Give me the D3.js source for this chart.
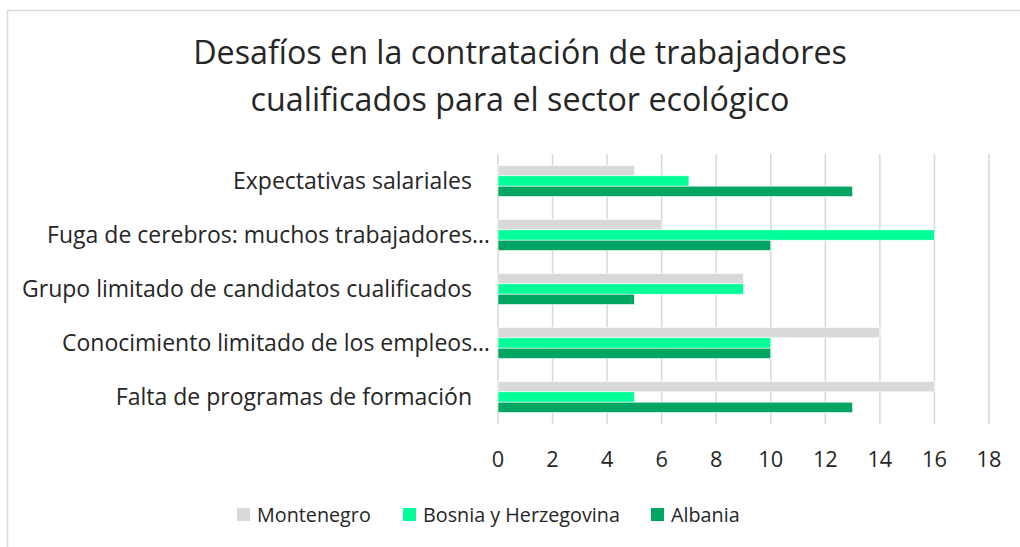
<!DOCTYPE html>
<html>
<head>
<meta charset="utf-8">
<script src="https://cdn.jsdelivr.net/npm/d3@7"></script>
<style>
  body { margin: 0; background: #fff; }
  text { font-family: "Open Sans", "Noto Sans", sans-serif; fill: #262626; }
</style>
</head>
<body>
<div id="chart"></div>
<script>
  var categories = [
    'Expectativas salariales',
    'Fuga de cerebros: muchos trabajadores…',
    'Grupo limitado de candidatos cualificados',
    'Conocimiento limitado de los empleos…',
    'Falta de programas de formación'
  ];
  var seriesNames = ['Montenegro', 'Bosnia y Herzegovina', 'Albania'];
  var montenegro = [5, 6, 9, 14, 16];
  var bosnia = [7, 16, 9, 10, 5];
  var albania = [13, 10, 5, 10, 13];
  var xTicks = [0, 2, 4, 6, 8, 10, 12, 14, 16, 18];
  var titleLines = ['Desafíos en la contratación de trabajadores', 'cualificados para el sector ecológico'];

  var colors = ['#d9d9d9', '#00ff99', '#00a562'];
  var values = [montenegro, bosnia, albania];

  var width = 1020, height = 547;
  var svg = d3.select('#chart').append('svg')
    .attr('width', width)
    .attr('height', height);

  // size a font so a sample string takes the width seen in the picture
  function fitSize(str, target, weight) {
    var t = svg.append('text').style('font-size', '20px').style('font-weight', weight || 400).text(str);
    var w = t.node().getComputedTextLength();
    t.remove();
    return 20 * target / w;
  }
  var titleSize = fitSize(titleLines[0], 654);
  var labelSize = fitSize(categories[2], 450);
  var legendSize = fitSize(seriesNames[1], 197);
  var tickSize = Math.min(fitSize('18', 25), legendSize * 1.1);

  // chart frame
  svg.append('rect')
    .attr('x', 7.5).attr('y', 10.5)
    .attr('width', 1030).attr('height', 560)
    .attr('fill', 'none')
    .attr('stroke', '#d9d9d9')
    .attr('stroke-width', 1.5);

  // title
  var title = svg.append('text')
    .attr('text-anchor', 'middle')
    .style('font-size', titleSize + 'px');
  title.selectAll('tspan')
    .data(titleLines)
    .enter().append('tspan')
    .attr('x', 520)
    .attr('y', function(d, i) { return 64 + i * 47; })
    .text(function(d) { return d; });

  var x = d3.scaleLinear().domain([0, 18]).range([498, 989]);
  var y = d3.scaleBand().domain(categories).range([154, 424]).paddingInner(0.425).paddingOuter(0.2125);
  var ySub = d3.scaleBand().domain(seriesNames).range([0, y.bandwidth()]);

  // gridlines
  svg.append('g').selectAll('line')
    .data(xTicks)
    .enter().append('line')
    .attr('x1', function(d) { return x(d); })
    .attr('x2', function(d) { return x(d); })
    .attr('y1', 154).attr('y2', 424)
    .attr('stroke', '#d9d9d9')
    .attr('stroke-width', 1.5);

  // bars
  var groups = svg.append('g').selectAll('g')
    .data(categories)
    .enter().append('g')
    .attr('transform', function(d) { return 'translate(0,' + y(d) + ')'; });

  groups.selectAll('rect')
    .data(function(d, i) {
      return seriesNames.map(function(s, j) { return {s: s, v: values[j][i], c: colors[j]}; });
    })
    .enter().append('rect')
    .attr('x', x(0))
    .attr('y', function(d) { return ySub(d.s); })
    .attr('width', function(d) { return x(d.v) - x(0); })
    .attr('height', ySub.bandwidth())
    .attr('fill', function(d) { return d.c; })
    .attr('stroke', '#fff')
    .attr('stroke-width', 0.6);

  // category labels (truncated ones run closer to the axis, like the original)
  svg.append('g').selectAll('text')
    .data(categories)
    .enter().append('text')
    .attr('x', function(d) { return d.slice(-1) === '…' ? 490 : 472; })
    .attr('y', function(d) { return y(d) + y.bandwidth() / 2 + 8; })
    .attr('text-anchor', 'end')
    .style('font-size', labelSize + 'px')
    .text(function(d) { return d; });

  // x axis labels
  svg.append('g').selectAll('text')
    .data(xTicks)
    .enter().append('text')
    .attr('x', function(d) { return x(d); })
    .attr('y', 467)
    .attr('text-anchor', 'middle')
    .style('font-size', tickSize + 'px')
    .text(function(d) { return d; });

  // legend
  var legendX = [237, 403, 651];
  var legend = svg.append('g').selectAll('g')
    .data(seriesNames)
    .enter().append('g')
    .attr('transform', function(d, i) { return 'translate(' + legendX[i] + ',508)'; });
  legend.append('rect')
    .attr('width', 13).attr('height', 13)
    .attr('fill', function(d, i) { return colors[i]; });
  legend.append('text')
    .attr('x', 20).attr('y', 14)
    .style('font-size', legendSize + 'px')
    .text(function(d) { return d; });
</script>
</body>
</html>
